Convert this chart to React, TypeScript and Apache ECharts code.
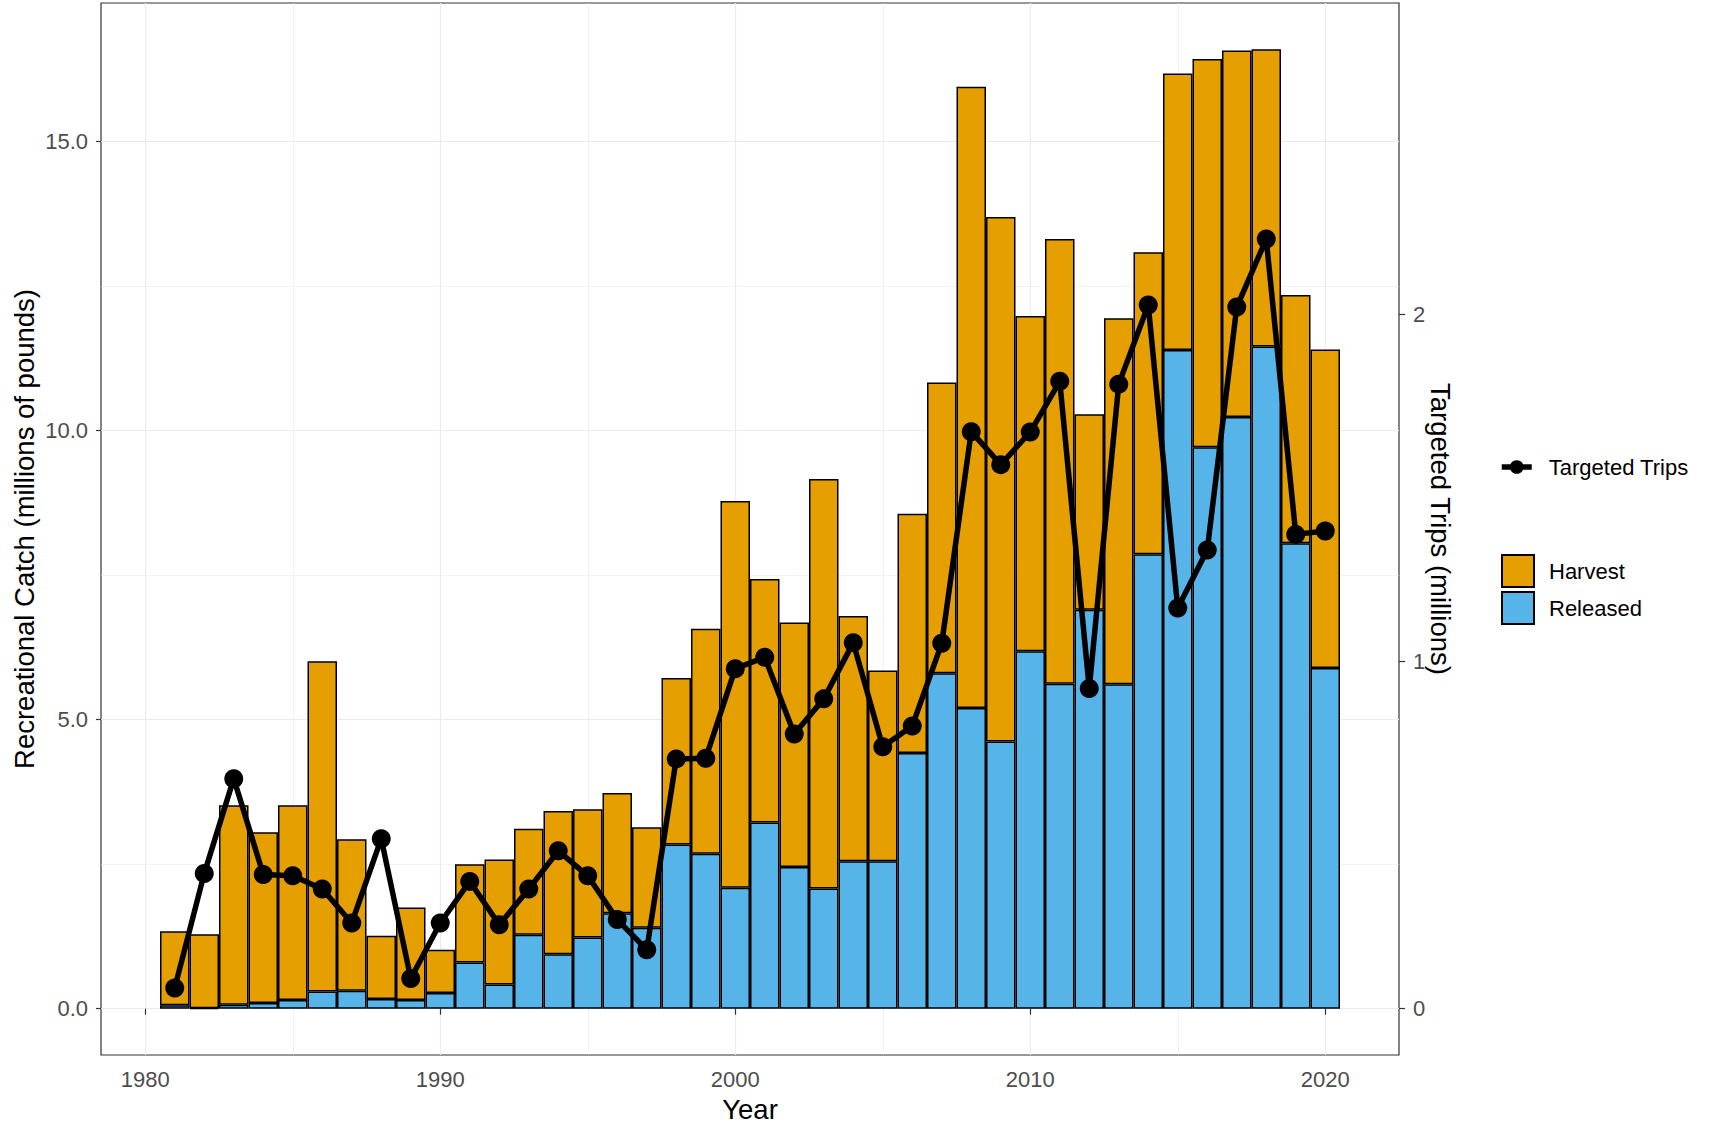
import React, { useEffect, useRef } from "react";
import * as echarts from "echarts";

const years = [
  1981, 1982, 1983, 1984, 1985, 1986, 1987, 1988, 1989, 1990,
  1991, 1992, 1993, 1994, 1995, 1996, 1997, 1998, 1999, 2000,
  2001, 2002, 2003, 2004, 2005, 2006, 2007, 2008, 2009, 2010,
  2011, 2012, 2013, 2014, 2015, 2016, 2017, 2018, 2019, 2020,
];

// Year slots of the bar band axis (the panel runs from 1978.5 to 2022.5)
const barSlots = [1979, 1980, ...years, 2021, 2022].map(String);

// Total recreational catch (harvest + released), millions of pounds
const totalCatch = [
  1.34, 1.29, 3.52, 3.05, 3.52, 6.01, 2.93, 1.26, 1.75, 1.02,
  2.5, 2.58, 3.11, 3.42, 3.45, 3.73, 3.14, 5.72, 6.57, 8.78,
  7.43, 6.68, 9.16, 6.79, 5.85, 8.56, 10.83, 15.94, 13.69, 11.98,
  13.31, 10.28, 11.94, 13.08, 16.17, 16.42, 16.57, 16.59, 12.34, 11.4,
];

// Released catch, millions of pounds
const released = [
  0.06, 0.01, 0.07, 0.1, 0.15, 0.3, 0.31, 0.17, 0.15, 0.27,
  0.8, 0.42, 1.28, 0.94, 1.23, 1.65, 1.4, 2.84, 2.68, 2.09,
  3.22, 2.45, 2.08, 2.55, 2.55, 4.42, 5.8, 5.2, 4.62, 6.18,
  5.62, 6.9, 5.61, 7.86, 11.39, 9.71, 10.23, 11.45, 8.05, 5.89,
];

// Targeted trips, millions
const trips = [
  0.06, 0.39, 0.663, 0.387, 0.383, 0.345, 0.247, 0.49, 0.087, 0.247,
  0.367, 0.242, 0.345, 0.455, 0.383, 0.257, 0.17, 0.72, 0.722, 0.98,
  1.013, 0.792, 0.893, 1.055, 0.755, 0.815, 1.053, 1.663, 1.568, 1.662,
  1.808, 0.923, 1.8, 2.028, 1.155, 1.322, 2.022, 2.218, 1.367, 1.377,
];

const xTicks = [1980, 1990, 2000, 2010, 2020];
const yTicksLeft = [0, 5, 10, 15];
const yTicksRight = [0, 1, 2];
const TRIP_SCALE = 6; // 1 million trips on the right axis = 6 million lbs on the left axis

export default function App() {
  const ref = useRef<HTMLDivElement>(null);

  useEffect(() => {
    document.body.style.margin = "0";
    const chart = echarts.init(ref.current as HTMLDivElement, null, { renderer: "svg" });
    const font = "'Liberation Sans', Arial, Helvetica, sans-serif";
    const harvest = totalCatch.map((t, i) => +(t - released[i]).toFixed(3));
    const yMin = -0.8;
    const yMax = 17.39;
    const tickColor = "#333333";
    const labelColor = "#4d4d4d";
    const gridColor = "#ebebeb";
    const legendText = { fontSize: 22, color: "#000000", fontFamily: font, padding: [0, 0, 0, 12] };

    chart.setOption({
      animation: false,
      backgroundColor: "#ffffff",
      textStyle: { fontFamily: font },
      grid: {
        left: 101,
        top: 3,
        width: 1298,
        height: 1052,
        containLabel: false,
        outerBoundsMode: "none",
        show: true,
        borderColor: "#333333",
        borderWidth: 1.2,
        backgroundColor: "transparent",
      },
      xAxis: [
        {
          type: "value",
          position: "bottom",
          min: 1978.5,
          max: 2022.5,
          minInterval: 10,
          maxInterval: 10,
          name: "Year",
          nameLocation: "middle",
          nameGap: 40,
          nameMoveOverlap: false,
          nameTextStyle: { fontSize: 27.5, color: "#000000", fontFamily: font },
          axisLine: { show: false },
          axisTick: {
            show: true,
            customValues: xTicks,
            length: 6,
            lineStyle: { color: tickColor, width: 1.2 },
          },
          axisLabel: {
            customValues: xTicks,
            fontSize: 22,
            color: labelColor,
            margin: 13,
            fontFamily: font,
            formatter: (v: number) => (xTicks.includes(v) ? String(v) : ""),
          },
          splitLine: { show: true, lineStyle: { color: gridColor, width: 1.2 } },
          minorTick: { show: false, splitNumber: 2 },
          minorSplitLine: { show: true, lineStyle: { color: gridColor, width: 0.6 } },
        },
        {
          type: "category",
          position: "bottom",
          data: barSlots,
          boundaryGap: true,
          show: false,
          axisLine: { show: false },
          axisTick: { show: false },
          axisLabel: { show: false },
          splitLine: { show: false },
        },
      ],
      yAxis: [
        {
          type: "value",
          position: "left",
          min: yMin,
          max: yMax,
          minInterval: 5,
          maxInterval: 5,
          name: "Recreational Catch (millions of pounds)",
          nameLocation: "middle",
          nameGap: 63,
          nameMoveOverlap: false,
          nameTextStyle: { fontSize: 27.5, color: "#000000", fontFamily: font },
          axisLine: { show: false },
          axisTick: {
            show: true,
            customValues: yTicksLeft,
            length: 5,
            lineStyle: { color: tickColor, width: 1.2 },
          },
          axisLabel: {
            customValues: yTicksLeft,
            fontSize: 22,
            color: labelColor,
            margin: 13,
            fontFamily: font,
            formatter: (v: number) => (yTicksLeft.includes(v) ? v.toFixed(1) : ""),
          },
          splitLine: { show: true, lineStyle: { color: gridColor, width: 1.2 } },
          minorTick: { show: false, splitNumber: 2 },
          minorSplitLine: { show: true, lineStyle: { color: gridColor, width: 0.6 } },
        },
        {
          type: "value",
          position: "right",
          min: yMin / TRIP_SCALE,
          max: yMax / TRIP_SCALE,
          minInterval: 1,
          maxInterval: 1,
          name: "Targeted Trips (millions)",
          nameLocation: "middle",
          nameRotate: -90,
          nameGap: 27,
          nameMoveOverlap: false,
          nameTextStyle: { fontSize: 27.5, color: "#000000", fontFamily: font },
          axisLine: { show: false },
          axisTick: {
            show: true,
            customValues: yTicksRight,
            length: 6,
            lineStyle: { color: tickColor, width: 1.2 },
          },
          axisLabel: {
            customValues: yTicksRight,
            fontSize: 22,
            color: labelColor,
            margin: 14,
            fontFamily: font,
            formatter: (v: number) => (yTicksRight.includes(v) ? String(v) : ""),
          },
          splitLine: { show: false },
        },
      ],
      legend: [
        {
          data: ["Targeted Trips"],
          orient: "vertical",
          left: 1499,
          top: 456,
          padding: 0,
          itemWidth: 30,
          itemHeight: 17,
          lineStyle: { width: 5.5, color: "#000000" },
          textStyle: legendText,
        },
        {
          data: ["Harvest", "Released"],
          orient: "vertical",
          left: 1501,
          top: 554,
          padding: 0,
          icon: "rect",
          itemWidth: 32,
          itemHeight: 32,
          itemGap: 3,
          textStyle: { ...legendText, padding: [0, 0, 0, 10] },
        },
      ],
      series: [
        {
          name: "Released",
          type: "bar",
          stack: "catch",
          xAxisIndex: 1,
          yAxisIndex: 0,
          barWidth: "100%",
          data: years.map((y, i) => [String(y), released[i]]),
          itemStyle: { color: "#56B4E9", borderColor: "#000000", borderWidth: 1.5 },
        },
        {
          name: "Harvest",
          type: "bar",
          stack: "catch",
          xAxisIndex: 1,
          yAxisIndex: 0,
          barWidth: "100%",
          data: years.map((y, i) => [String(y), harvest[i]]),
          itemStyle: { color: "#E69F00", borderColor: "#000000", borderWidth: 1.5 },
        },
        {
          name: "Targeted Trips",
          type: "line",
          xAxisIndex: 0,
          yAxisIndex: 1,
          data: years.map((y, i) => [y, trips[i]]),
          symbol: "circle",
          symbolSize: 19,
          z: 5,
          lineStyle: { color: "#000000", width: 5.5 },
          itemStyle: { color: "#000000" },
        },
      ],
    });

    return () => chart.dispose();
  }, []);

  return <div ref={ref} style={{ width: 1709, height: 1123 }} />;
}
